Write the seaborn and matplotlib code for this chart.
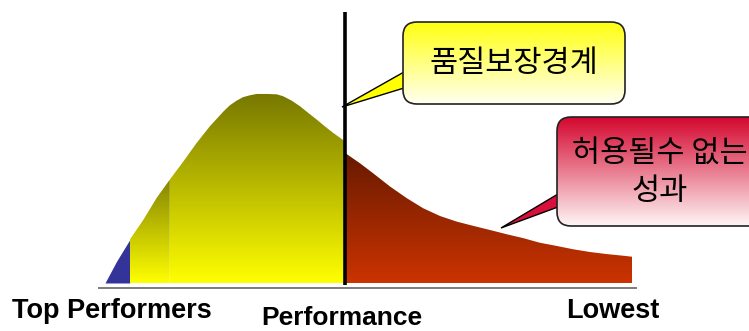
import numpy as np
import matplotlib
matplotlib.use("Agg")
import matplotlib.pyplot as plt
from matplotlib.patches import FancyBboxPatch, Polygon
import seaborn as sns

# performance score (0 = top performers, 100 = lowest) vs relative headcount
score_left = [0, 2.2, 4.7, 7.3, 9.8, 12.3, 14.9, 17.4, 19.9, 22.5, 23.7, 25.0, 26.2,
              27.5, 28.8, 30.7, 32.6, 33.8, 35.4, 37.0, 38.6, 40.2, 41.7, 43.3, 45.5]
count_left = [0, 11.5, 22.9, 33.5, 45.0, 54.7, 64.4, 74.1, 82.9, 90.8, 94.0, 96.5, 98.3,
              99.3, 100, 100, 99.8, 98.8, 96.5, 93.5, 89.9, 86.4, 82.9, 79.4, 75.0]
score_right = [45.5, 48.4, 50.9, 54.1, 57.3, 60.4, 63.6, 66.7, 69.9, 73.1, 76.2, 79.4,
               82.5, 85.7, 88.9, 92.0, 95.2, 98.4, 100]
count_right = [68.9, 63.3, 58.0, 51.0, 44.8, 39.5, 35.4, 32.5, 30.2, 28.0, 25.8, 23.7,
               21.3, 19.6, 17.8, 16.4, 15.3, 14.4, 13.9]

# band edges on the score axis
top_edge = 4.7
mid_edge = 12.3
cutoff = 45.5

label_boundary = "품질보장경계"
label_reject = "허용될수 없는\n성과"
label_left = "Top Performers"
label_mid = "Performance"
label_right = "Lowest"

sns.set_theme(style="white")
plt.rcParams["font.family"] = ["Noto Sans CJK KR", "DejaVu Sans"]

fig = plt.figure(figsize=(7.49, 3.31), dpi=100)
ax = fig.add_axes([0, 0, 1, 1])
ax.axis("off")

xl = np.array(score_left)
yl = np.array(count_left)
xr = np.array(score_right)
yr = np.array(count_right)


def gradient_fill(ax, x, y, c_top, c_bottom, z=2):
    poly = ax.fill_between(x, 0, y, color="none", lw=0)
    path = poly.get_paths()[0]
    cmap = sns.blend_palette([c_bottom, c_top], as_cmap=True)
    img = ax.imshow(np.linspace(0, 1, 256).reshape(-1, 1), cmap=cmap, origin="lower",
                    extent=[x.min(), x.max(), 0, y.max()], aspect="auto", zorder=z)
    img.set_clip_path(path, ax.transData)


m = xl <= top_edge
ax.fill_between(xl[m], 0, yl[m], color="#333399", lw=0, zorder=2)
m = (xl >= top_edge) & (xl <= mid_edge)
gradient_fill(ax, xl[m], yl[m], "#858500", "#ffff00")
m = xl >= mid_edge
gradient_fill(ax, xl[m], yl[m], "#777700", "#ffff00")
gradient_fill(ax, xr, yr, "#661a00", "#cc3300")

ax.vlines(cutoff, -1.0, 143.4, color="black", lw=2.6, zorder=4)
ax.hlines(-2.6, -1.3, 100.9, color="#666666", lw=1.2, zorder=1)

ax.set_xlim(-19.92, 122.2)
ax.set_ylim(-25.4, 149.7)

# overlay in pixel units for callouts and labels
ov = fig.add_axes([0, 0, 1, 1])
ov.axis("off")
ov.patch.set_alpha(0)


def callout(ov, box, base, tip, c_top, c_bottom, c_tip):
    x0, y0, x1, y1 = box
    ov.add_patch(Polygon([base[0], base[1], tip], closed=True, fc=c_tip, ec="black",
                         lw=1, zorder=3))
    patch = FancyBboxPatch((x0, y0), x1 - x0, y1 - y0,
                           boxstyle="round,pad=0,rounding_size=14",
                           fc="none", ec="#222222", lw=1.2, zorder=5)
    ov.add_patch(patch)
    cmap = sns.blend_palette([c_top, c_bottom], as_cmap=True)
    img = ov.imshow(np.linspace(0, 1, 256).reshape(-1, 1), cmap=cmap, origin="upper",
                    extent=[x0, x1, y1, y0], aspect="auto", zorder=4)
    img.set_clip_path(patch)


callout(ov, (403, 22, 625, 104), [(404, 72), (404, 88)], (342, 107),
        "#ffff10", "#fffff2", "#ffff00")
ov.text(514, 64, label_boundary, fontsize=22, ha="center",
        va="center", color="black", zorder=6)

callout(ov, (557, 117, 766, 226), [(558, 194), (558, 207)], (501, 228),
        "#d4062e", "#fff6f6", "#d8103c")
ov.text(660, 172, label_reject, fontsize=22, ha="center",
        va="center", linespacing=1.3, color="black", zorder=6)

en = ["Liberation Sans", "DejaVu Sans"]
ov.text(12, 318, label_left, fontsize=19.5, fontweight="bold", family=en,
        ha="left", va="baseline", color="black")
ov.text(342, 330, label_mid, fontsize=19, fontweight="bold", family=en,
        ha="center", va="bottom", color="black")
ov.text(613, 318, label_right, fontsize=19.5, fontweight="bold", family=en,
        ha="center", va="baseline", color="black")

ov.set_xlim(0, 749)
ov.set_ylim(331, 0)

fig.savefig("out.png", dpi=100)
